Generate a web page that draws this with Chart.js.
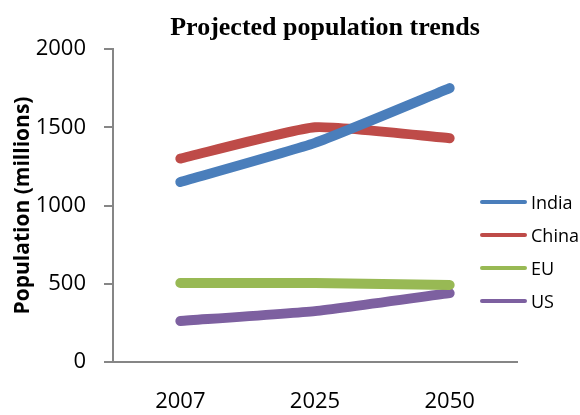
<!DOCTYPE html>
<html>
<head>
<meta charset="utf-8">
<script src="https://cdn.jsdelivr.net/npm/chart.js@4/dist/chart.umd.min.js"></script>
<style>
  body { margin: 0; background: #fff; }
  #wrap { position: relative; width: 580px; height: 415px; }
  #title {
    position: absolute; left: 0; top: 12px; width: 650px; text-align: center;
    font: bold 26px "Liberation Serif", "Times New Roman", serif; color: #000;
  }
  #legend { position: absolute; left: 480px; top: 185px; font: 18px "Open Sans", sans-serif; }
  .item { display: flex; align-items: center; height: 33px; }
  .swatch { width: 47px; height: 4px; border-radius: 2px; margin-right: 4px; }
</style>
</head>
<body>
<div id="wrap">
  <canvas id="popChart" width="580" height="415"></canvas>
  <div id="title">Projected population trends</div>
  <div id="legend"></div>
</div>
<script>
const years = ['2007', '2025', '2050'];
const seriesNames = ['India', 'China', 'EU', 'US'];
const seriesColors = ['#4a7ebb', '#be4b48', '#98b954', '#7d60a0'];
const indiaValues = [1150, 1400, 1750];
const chinaValues = [1300, 1500, 1430];
const euValues = [505, 505, 492];
const usValues = [262, 325, 440];

const allValues = [indiaValues, chinaValues, euValues, usValues];
const axisColor = '#868686';

const datasets = seriesNames.map((name, i) => ({
  label: name,
  data: allValues[i],
  borderColor: seriesColors[i],
  backgroundColor: seriesColors[i],
  borderWidth: 10,
  borderCapStyle: 'round',
  borderJoinStyle: 'round',
  pointRadius: 0,
  tension: 0.15,
  fill: false
}));

const ctx = document.getElementById('popChart').getContext('2d');
new Chart(ctx, {
  type: 'line',
  data: { labels: years, datasets: datasets },
  options: {
    responsive: false,
    animation: false,
    layout: { padding: { left: 0, right: 63, top: 49, bottom: 0 } },
    plugins: {
      legend: { display: false },
      tooltip: { enabled: false }
    },
    scales: {
      x: {
        offset: true,
        grid: { display: false, drawTicks: false },
        border: { color: axisColor, width: 2 },
        ticks: { color: '#000', padding: 27, font: { family: 'Open Sans', size: 22 } },
        afterFit: scale => { scale.height = 53; }
      },
      y: {
        min: 0,
        max: 2000,
        ticks: {
          stepSize: 500,
          color: '#000',
          padding: 18,
          font: { family: 'Open Sans', size: 22 },
          callback: value => String(value)
        },
        grid: { drawOnChartArea: false, drawTicks: true, tickLength: 9, color: axisColor, lineWidth: 2 },
        border: { color: axisColor, width: 2 },
        title: {
          display: true,
          text: 'Population (millions)',
          color: '#000',
          padding: { top: 10, bottom: 0 },
          font: { family: 'Open Sans', size: 21, weight: 'bold' }
        },
        afterFit: scale => { scale.width = 113; }
      }
    }
  }
});

// 범례 (legend)
const legend = document.getElementById('legend');
seriesNames.forEach((name, i) => {
  const item = document.createElement('div');
  item.className = 'item';
  item.innerHTML = `<span class="swatch" style="background:${seriesColors[i]}"></span><span>${name}</span>`;
  legend.appendChild(item);
});
</script>
</body>
</html>
